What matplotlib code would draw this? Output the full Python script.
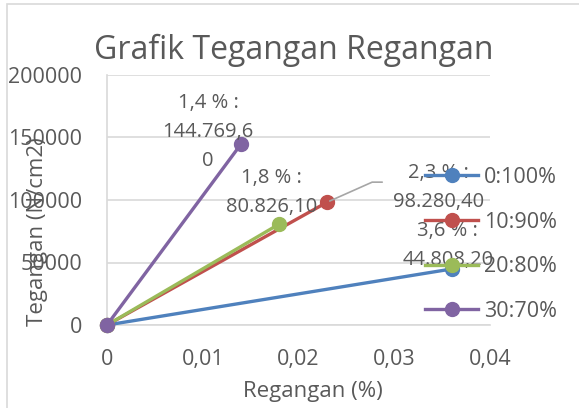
import matplotlib
matplotlib.use('Agg')
import matplotlib.pyplot as plt
from matplotlib.patches import Rectangle

plt.rcParams['font.family'] = ['Open Sans', 'DejaVu Sans']

# Data: each series goes from the origin to its final point
series_names = ['0:100%', '10:90%', '20:80%', '30:70%']
regangan = [[0, 0.036], [0, 0.023], [0, 0.018], [0, 0.014]]
tegangan = [[0, 44808.2], [0, 98280.4], [0, 80826.1], [0, 144769.6]]
colors = ['#4F81BD', '#C0504D', '#9BBB59', '#8064A2']

x_ticks = [0, 0.01, 0.02, 0.03, 0.04]
x_tick_labels = ['0', '0,01', '0,02', '0,03', '0,04']
y_ticks = [0, 50000, 100000, 150000, 200000]

# data label text for the end point of each series
point_labels = ['3,6 % :\n44.808,20', '2,3 % :\n98.280,40',
                '1,8 % :\n80.826,10', '1,4 % :\n144.769,6\n0']
# where each label sits relative to its point (pixels)
label_offsets = [(-4, 23), (111, 15), (-8, 31), (-33, 12)]

txt = '#595959'
W, H = 579, 408
fig = plt.figure(figsize=(W / 100, H / 100), dpi=100)
ax = fig.add_axes([107 / W, 1 - 325 / H, (490 - 107) / W, (325 - 75) / H])

# outer chart border
fig.patches.append(Rectangle((7 / W, -0.05), 1.2, 1 - 4 / H + 0.05,
                             transform=fig.transFigure, fill=False,
                             edgecolor='#D9D9D9', linewidth=1.2))

lines = []
for xs, ys, c, name in zip(regangan, tegangan, colors, series_names):
    ln, = ax.plot(xs, ys, color=c, lw=2.4, marker='o', markersize=10,
                  label=name, clip_on=False, zorder=3)
    lines.append(ln)

ax.set_xlim(0, 0.04)
ax.set_ylim(0, 200000)
ax.set_xticks(x_ticks)
ax.set_xticklabels(x_tick_labels)
ax.set_yticks(y_ticks)
ax.set_yticklabels([str(v) for v in y_ticks])
ax.tick_params(length=0, labelsize=15.5, colors=txt)
ax.tick_params(axis='x', pad=17)
ax.tick_params(axis='y', pad=18)
ax.grid(axis='y', color='#D9D9D9', lw=1.2)
ax.set_axisbelow(True)
for s in ['top', 'right']:
    ax.spines[s].set_visible(False)
for s in ['left', 'bottom']:
    ax.spines[s].set_color('#D9D9D9')
    ax.spines[s].set_linewidth(1.2)

# data labels
lab_kw = dict(ha='center', va='center', fontsize=14.5, color=txt,
              linespacing=1.6, textcoords='offset pixels', zorder=4)
for i in range(4):
    ax.annotate(point_labels[i], (regangan[i][1], tegangan[i][1]),
                xytext=label_offsets[i], **lab_kw)

# leader line for the 10:90% label
ax.annotate('', (regangan[1][1], tegangan[1][1]), xytext=(55, 20),
            textcoords='offset pixels',
            arrowprops=dict(arrowstyle='-', color='#A6A6A6', lw=1.2,
                            connectionstyle='angle,angleA=0,angleB=24,rad=0',
                            shrinkA=0, shrinkB=2))

leg = ax.legend(handles=lines, loc='upper left', bbox_to_anchor=(309 / 383, 0.667),
                frameon=False, fontsize=15.5, labelcolor=txt, handlelength=2.5,
                handletextpad=0.25, labelspacing=1.1, borderaxespad=0)
leg.set_zorder(5)

fig.text(294 / W, 1 - 59 / H, 'Grafik Tegangan Regangan', ha='center',
         va='baseline', fontsize=23, color=txt)
fig.text(38 / W, 1 - 232 / H, 'Tegangan (N/cm2)', rotation=90, ha='center',
         va='center', fontsize=16, color=txt)
fig.text(313 / W, 1 - 391 / H, 'Regangan (%)', ha='center', va='center',
         fontsize=16, color=txt)

fig.savefig('out.png', dpi=100, facecolor='white')
